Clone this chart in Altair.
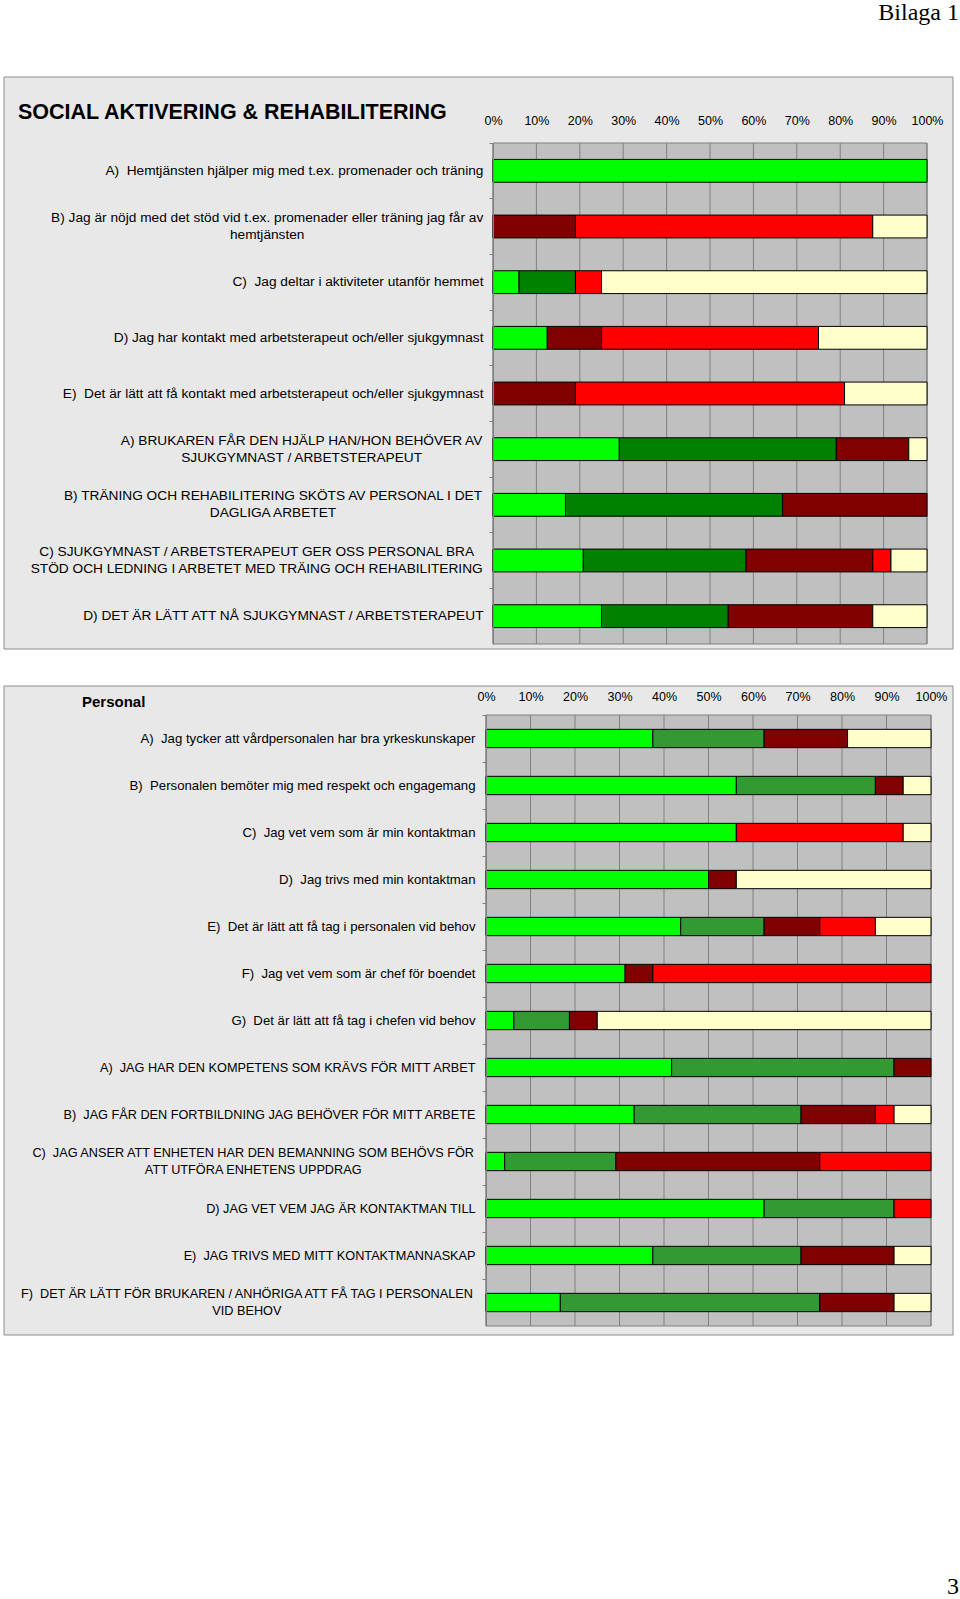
import altair as alt
import pandas as pd

# ---------------- data ----------------
TICKS = [0, 10, 20, 30, 40, 50, 60, 70, 80, 90, 100]
RESP = ["Instämmer helt", "Instämmer delvis", "Tar delvis avstånd", "Tar helt avstånd", "Vet ej"]

TITLE_1 = "SOCIAL AKTIVERING & REHABILITERING"
CATS_1 = [
    "A)  Hemtjänsten hjälper mig med t.ex. promenader och träning",
    "B) Jag är nöjd med det stöd vid t.ex. promenader eller träning jag får av|hemtjänsten",
    "C)  Jag deltar i aktiviteter utanför hemmet",
    "D) Jag har kontakt med arbetsterapeut och/eller sjukgymnast",
    "E)  Det är lätt att få kontakt med arbetsterapeut och/eller sjukgymnast",
    "A) BRUKAREN FÅR DEN HJÄLP HAN/HON BEHÖVER AV|SJUKGYMNAST / ARBETSTERAPEUT",
    "B) TRÄNING OCH REHABILITERING SKÖTS AV PERSONAL I DET|DAGLIGA ARBETET",
    "C) SJUKGYMNAST / ARBETSTERAPEUT GER OSS PERSONAL BRA|STÖD OCH LEDNING I ARBETET MED TRÄING OCH REHABILITERING",
    "D) DET ÄR LÄTT ATT NÅ SJUKGYMNAST / ARBETSTERAPEUT",
]
LG_1 = [100, 0, 6, 12.5, 0, 29.1, 16.7, 20.8, 25]
DG_1 = [0, 0, 13, 0, 0, 50, 50, 37.5, 29.2]
DR_1 = [0, 19, 0, 12.5, 19, 16.7, 33.3, 29.2, 33.3]
RD_1 = [0, 68.5, 6, 50, 62, 0, 0, 4.2, 0]
CR_1 = [0, 12.5, 75, 25, 19, 4.2, 0, 8.3, 12.5]
COLORS_1 = ["#00FF00", "#008000", "#800000", "#FF0000", "#FFFFCC"]

TITLE_2 = "Personal"
CATS_2 = [
    "A)  Jag tycker att vårdpersonalen har bra yrkeskunskaper",
    "B)  Personalen bemöter mig med respekt och engagemang",
    "C)  Jag vet vem som är min kontaktman",
    "D)  Jag trivs med min kontaktman",
    "E)  Det är lätt att få tag i personalen vid behov",
    "F)  Jag vet vem som är chef för boendet",
    "G)  Det är lätt att få tag i chefen vid behov",
    "A)  JAG HAR DEN KOMPETENS SOM KRÄVS FÖR MITT ARBET",
    "B)  JAG FÅR DEN FORTBILDNING JAG BEHÖVER FÖR MITT ARBETE",
    "C)  JAG ANSER ATT ENHETEN HAR DEN BEMANNING SOM BEHÖVS FÖR|ATT UTFÖRA ENHETENS UPPDRAG",
    "D) JAG VET VEM JAG ÄR KONTAKTMAN TILL",
    "E)  JAG TRIVS MED MITT KONTAKTMANNASKAP",
    "F)  DET ÄR LÄTT FÖR BRUKAREN / ANHÖRIGA ATT FÅ TAG I PERSONALEN|VID BEHOV",
]
LG_2 = [37.5, 56.25, 56.25, 50, 43.75, 31.25, 6.25, 41.7, 33.3, 4.2, 62.5, 37.5, 16.7]
DG_2 = [25, 31.25, 0, 0, 18.75, 0, 12.5, 50, 37.5, 25, 29.2, 33.3, 58.3]
DR_2 = [18.75, 6.25, 0, 6.25, 12.5, 6.25, 6.25, 8.3, 16.7, 45.8, 0, 20.9, 16.7]
RD_2 = [0, 0, 37.5, 0, 12.5, 62.5, 0, 0, 4.2, 25, 8.3, 0, 0]
CR_2 = [18.75, 6.25, 6.25, 43.75, 12.5, 0, 75, 0, 8.3, 0, 0, 8.3, 8.3]
COLORS_2 = ["#00FF00", "#339933", "#800000", "#FF0000", "#FFFFCC"]

PAGE_HEADER = "Bilaga 1"
PAGE_NUMBER = "3"

FONT = "Liberation Sans"
FRAME_FILL = "#E8E8E8"
FRAME_STROKE = "#8C8C8C"
PLOT_FILL = "#C0C0C0"
GRID = "#808080"
LINE_H = 17

# Arial / Liberation Sans advance widths (1/1000 em), used to centre wrapped labels
_W = {" ": 278, "\u00a0": 278, "(": 333, ")": 333, ".": 278, "/": 278, "-": 333,
      "A": 667, "B": 667, "C": 722, "D": 722, "E": 667, "F": 611, "G": 778, "H": 722,
      "I": 278, "J": 500, "K": 667, "L": 556, "M": 833, "N": 722, "O": 778, "P": 667,
      "Q": 778, "R": 722, "S": 667, "T": 611, "U": 722, "V": 667, "W": 944, "X": 667,
      "Y": 667, "Z": 611, "Å": 667, "Ä": 667, "Ö": 778,
      "a": 556, "b": 556, "c": 500, "d": 556, "e": 556, "f": 278, "g": 556, "h": 556,
      "i": 222, "j": 222, "k": 500, "l": 222, "m": 833, "n": 556, "o": 556, "p": 556,
      "q": 556, "r": 333, "s": 500, "t": 278, "u": 556, "v": 500, "w": 722, "x": 500,
      "y": 500, "z": 500, "å": 556, "ä": 556, "ö": 556}


def text_width(s, size):
    return sum(_W.get(ch, 556) for ch in s) * size / 1000.0


def make_df(cats, series):
    rows = []
    for i, c in enumerate(cats):
        for k, (name, vals) in enumerate(zip(RESP, series)):
            rows.append({"cat": c, "resp": name, "k": k, "v": vals[i]})
    return pd.DataFrame(rows)


def panel(cats, series, colors, px, py, frame, band, xpad, ypad, fsize, fsize_caps):
    x0, x1 = px
    y0, y1 = py
    fx0, fx1, fy0, fy1 = frame
    df = make_df(cats, series)
    xs = alt.Scale(domain=[0, 100], range=[x0, x1], nice=False, zero=False)
    ys = alt.Scale(domain=cats, range=[y0, y1], paddingInner=0, paddingOuter=0)
    dummy = pd.DataFrame({"a": [0]})

    def size_of(c):
        return fsize_caps if c.upper() == c else fsize

    multi = [c for c in cats if "|" in c]
    is_multi = "indexof(datum.value, '|') >= 0"
    is_caps = "upper(datum.value) == datum.value"
    pad_cond = [
        {"test": "datum.value == '%s'" % c,
         "value": round(ypad + max(text_width(p, size_of(c)) for p in c.split("|")) / 2, 1)}
        for c in multi
    ]

    x_axis = alt.Axis(
        orient="top", offset=-y0, values=TICKS,
        labelExpr="datum.value + '%'", grid=False, ticks=False,
        tickSize=0, domain=False, labelPadding=xpad,
        labelFontSize=12.5, labelFont=FONT, labelColor="black",
        labelFlush=False, labelOverlap=False, zindex=1,
    )
    y_axis = alt.Axis(
        orient="left", offset=-x0, bandPosition=0, ticks=True,
        tickSize=4, tickColor=GRID, domain=True, domainColor=GRID,
        labelPadding={"condition": pad_cond, "value": ypad},
        labelAlign={"condition": {"test": is_multi, "value": "center"}, "value": "right"},
        labelOffset={"condition": {"test": is_multi, "value": -LINE_H / 2}, "value": 0},
        labelFontSize={"condition": {"test": is_caps, "value": fsize_caps}, "value": fsize},
        labelLimit=700, labelOverlap=False,
        labelExpr="split(replace(datum.label, '  ', '\u00a0 '), '|')",
        labelLineHeight=LINE_H,
        labelFont=FONT, labelColor="black",
        zindex=1,
    )

    frame_rect = alt.Chart(dummy).mark_rect(
        fill=FRAME_FILL, stroke=FRAME_STROKE, strokeWidth=1
    ).encode(x=alt.value(fx0), x2=alt.value(fx1), y=alt.value(fy0), y2=alt.value(fy1))

    plot_bg = alt.Chart(dummy).mark_rect(
        fill=PLOT_FILL, stroke=GRID, strokeWidth=1
    ).encode(x=alt.value(x0), x2=alt.value(x1), y=alt.value(y0), y2=alt.value(y1))

    grid = alt.Chart(pd.DataFrame({"t": TICKS})).mark_rule(
        color=GRID, strokeWidth=1
    ).encode(
        x=alt.X("t:Q", scale=xs, axis=x_axis, title=None),
        y=alt.value(y0),
        y2=alt.value(y1),
    )

    bars = alt.Chart(df).transform_filter("datum.v > 0").mark_bar(
        height={"band": band}, stroke="black", strokeWidth=1
    ).encode(
        x=alt.X("v:Q", stack="zero", scale=xs, title=None, axis=x_axis),
        y=alt.Y("cat:N", scale=ys, title=None, axis=y_axis),
        color=alt.Color("resp:N", scale=alt.Scale(domain=RESP, range=colors), legend=None),
        order=alt.Order("k:Q"),
    )
    return alt.layer(frame_rect, plot_bg, grid, bars)


p1 = panel(CATS_1, [LG_1, DG_1, DR_1, RD_1, CR_1], COLORS_1,
           (493, 927), (143, 644), (4, 953, 77, 649), 0.41, 16, 6, 13.7, 13.7)
p2 = panel(CATS_2, [LG_2, DG_2, DR_2, RD_2, CR_2], COLORS_2,
           (486, 931), (715, 1326), (4, 953, 686, 1335), 0.39, 12, 7, 13.2, 12.7)


def text_layer(txt, x, y, size, weight="normal", align="left", font=FONT):
    return alt.Chart(pd.DataFrame({"t": [txt]})).mark_text(
        align=align, baseline="alphabetic", font=font, fontSize=size,
        fontWeight=weight, color="black"
    ).encode(x=alt.value(x), y=alt.value(y), text="t:N")


texts = alt.layer(
    text_layer(TITLE_1, 18, 119, 21.5, "bold"),
    text_layer(TITLE_2, 82, 707, 15, "bold"),
    text_layer(PAGE_HEADER, 959, 20, 24, align="right", font="Liberation Serif"),
    text_layer(PAGE_NUMBER, 959, 1594, 24, align="right", font="Liberation Serif"),
)

chart = alt.layer(p1, p2, texts).resolve_scale(
    x="independent", y="independent", color="independent"
).properties(
    width=960, height=1599, padding=0,
    autosize=alt.AutoSizeParams(type="none"),
    background="white",
).configure_view(strokeWidth=0)

chart.save("out.html", embed_options={"renderer": "svg", "actions": False})
